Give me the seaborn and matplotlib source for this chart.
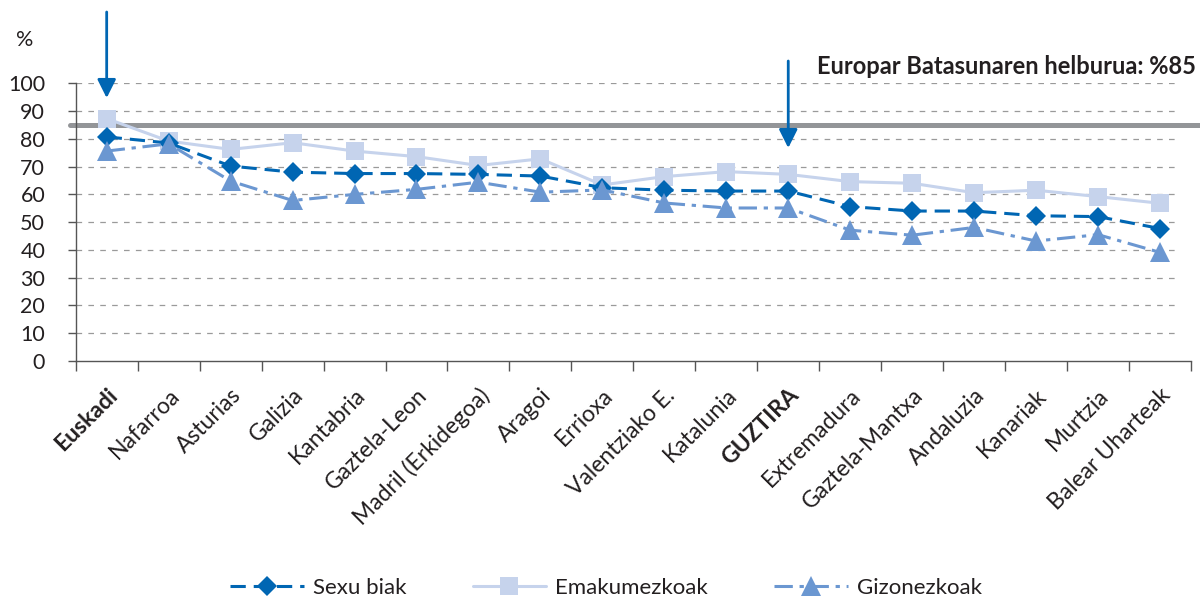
import matplotlib
matplotlib.use("Agg")
import matplotlib.pyplot as plt
import matplotlib.transforms as mtransforms
import seaborn as sns
import pandas as pd

regions = ["Euskadi", "Nafarroa", "Asturias", "Galizia", "Kantabria", "Gaztela-Leon",
           "Madril (Erkidegoa)", "Aragoi", "Errioxa", "Valentziako E.", "Katalunia",
           "GUZTIRA", "Extremadura", "Gaztela-Mantxa", "Andaluzia", "Kanariak",
           "Murtzia", "Balear Uharteak"]
sexu_biak = [80.7, 78.5, 70.2, 68.0, 67.5, 67.5, 67.2, 66.6, 62.4, 61.5, 61.2,
             61.2, 55.6, 54.0, 54.0, 52.3, 52.0, 47.7]
emakumezkoak = [87.3, 79.2, 76.2, 78.6, 75.6, 73.6, 70.4, 72.8, 63.4, 66.4, 68.2,
                67.2, 64.6, 64.0, 60.6, 61.5, 59.2, 56.8]
gizonezkoak = [75.6, 78.2, 64.8, 57.8, 60.0, 61.8, 64.4, 60.8, 61.6, 56.9, 55.1,
               55.1, 47.1, 45.3, 48.1, 43.2, 45.5, 39.1]
target = 85
bold_labels = ["Euskadi", "GUZTIRA"]
arrow_at = ["Euskadi", "GUZTIRA"]

sns.set_style("white")
plt.rcParams["font.family"] = ["Lato", "DejaVu Sans"]
txt = "#231f20"

fig = plt.figure(figsize=(12, 6.01), dpi=100)
ax = fig.add_axes([75.7 / 1200, 1 - 361 / 601, (1191 - 75.7) / 1200, (361 - 83.3) / 601])

pos = list(range(len(regions)))
df = pd.DataFrame({"pos": pos, "sexu": sexu_biak, "ema": emakumezkoak, "giz": gizonezkoak})

# draw order: light squares under, then diamonds, then triangles
sns.lineplot(data=df, x="pos", y="ema", ax=ax, color="#c6d3ec", lw=2.2,
             marker="s", markersize=13, markeredgewidth=0, label="Emakumezkoak")
sns.lineplot(data=df, x="pos", y="sexu", ax=ax, color="#0066b3", lw=2.2,
             marker="D", markersize=10, markeredgewidth=0, label="Sexu biak")
sns.lineplot(data=df, x="pos", y="giz", ax=ax, color="#6b97d1", lw=2.2,
             marker="^", markersize=14, markeredgewidth=0, label="Gizonezkoak")
ax.lines[1].set_dashes([5, 2.6])
ax.lines[2].set_dashes([6, 2.2, 1.4, 2.2])

ax.axhline(target, xmin=-0.005, xmax=1.01, color="#939598", lw=3.6, clip_on=False, zorder=1)

ax.set_xlim(-0.5, len(regions) - 0.5)
ax.set_ylim(0, 100)
ax.set_yticks(range(0, 101, 10))
ax.hlines(range(10, 101, 10), -0.5, len(regions) - 0.7, color="#9a9a9a", lw=0.9,
          linestyle=(0, (4.5, 5)), zorder=0)
for s in ["top", "right"]:
    ax.spines[s].set_visible(False)
for s in ["left", "bottom"]:
    ax.spines[s].set_color("#555555")
    ax.spines[s].set_linewidth(1.0)
ax.tick_params(axis="y", direction="out", length=6, width=1, color="#555555",
               labelsize=15.5, labelcolor=txt, pad=16, left=True)

ax.set_xticks(pos)
ax.set_xticklabels(regions, rotation=45, ha="right", rotation_mode="anchor",
                   fontsize=16.5, color=txt)
shift = mtransforms.ScaledTranslation(9 / 100, 0, fig.dpi_scale_trans)
for lab in ax.get_xticklabels():
    lab.set_transform(lab.get_transform() + shift)
    if lab.get_text() in bold_labels:
        lab.set_fontweight("bold")
ax.set_xticks([p - 0.5 for p in pos] + [len(regions) - 0.5], minor=True)
ax.tick_params(axis="x", which="major", length=0, pad=17)
ax.tick_params(axis="x", which="minor", direction="out", length=7, width=1,
               color="#555555", bottom=True)
ax.set_xlabel("")
ax.set_ylabel("")

for name in arrow_at:
    i = regions.index(name)
    y0, y1 = (589, 503) if name == "Euskadi" else (540, 453)
    ax.annotate("", xy=(i, y1), xytext=(i, y0), xycoords=("data", "figure pixels"),
                textcoords=("data", "figure pixels"),
                arrowprops=dict(arrowstyle="-|>,head_length=0.8,head_width=0.4",
                                mutation_scale=14, color="#0066b3", lw=2,
                                shrinkA=0, shrinkB=0))

fig.text(1196 / 1200, 1 - 66 / 601, "Europar Batasunaren helburua: %85", ha="right",
         va="center", fontsize=17, fontweight="bold", color=txt)
fig.text(25 / 1200, 1 - 40 / 601, "%", ha="center", va="center", fontsize=15.5, color=txt)

ax.get_legend().remove()
handles = {l.get_label(): l for l in ax.lines if not l.get_label().startswith("_")}
order = ["Sexu biak", "Emakumezkoak", "Gizonezkoak"]
fig.legend([handles[k] for k in order], order, loc="center", bbox_to_anchor=(0.505, 1 - 588 / 601),
           ncol=3, frameon=False, fontsize=16, handlelength=3.3, handletextpad=0.4,
           columnspacing=3.0, labelcolor=txt)

fig.savefig("out.png", dpi=100)
